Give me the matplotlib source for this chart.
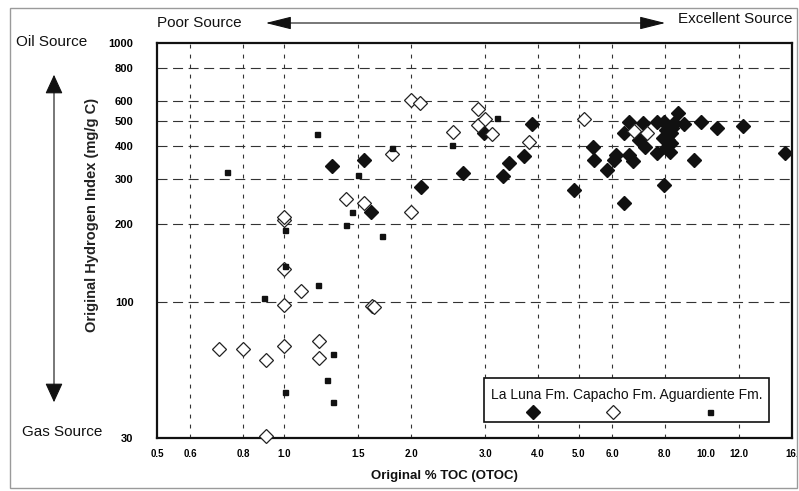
import matplotlib
matplotlib.use('Agg')
import matplotlib.pyplot as plt
from matplotlib.patches import Rectangle, FancyArrowPatch
from matplotlib.lines import Line2D
import matplotlib.ticker as mticker

# ── Data ──
luna_toc = [1.30, 1.55, 1.61, 2.11, 2.65, 2.98, 3.31, 3.41, 3.70, 3.88,
            4.87, 5.39, 5.44, 5.83, 6.12, 6.07, 6.40, 6.40, 6.58, 6.58,
            6.70, 6.95, 7.08, 7.18, 7.65, 7.67, 7.96, 8.04, 8.26, 8.11,
            8.26, 8.04, 8.23, 8.42, 8.57, 8.89, 7.96, 9.38, 9.73, 10.6,
            12.25, 15.4, 8.15, 7.90, 8.30]
luna_hi = [335, 353, 224, 278, 314, 448, 307, 345, 366, 486,
           271, 398, 353, 325, 369, 353, 241, 448, 494, 369,
           350, 422, 492, 398, 497, 375, 497, 462, 448, 422,
           410, 392, 381, 490, 538, 486, 283, 353, 494, 469,
           478, 375, 440, 430, 470]

cap_toc = [0.70, 0.80, 0.906, 0.906, 1.0, 1.0, 1.0, 1.0, 1.0, 1.10,
           1.21, 1.21, 1.40, 1.55, 1.62, 1.63, 1.80, 2.0, 2.0, 2.10,
           2.51, 2.88, 2.88, 2.99, 3.11, 3.80, 5.15, 6.74, 7.25]
cap_hi = [66, 66, 60, 30.5, 68, 98, 134, 207, 213, 111,
          71, 61, 251, 241, 97, 96, 373, 224, 603, 588,
          452, 555, 482, 508, 446, 416, 508, 457, 450]

agu_toc = [0.733, 0.895, 1.005, 1.005, 1.005, 1.20, 1.206, 1.265, 1.31, 1.31,
           1.40, 1.45, 1.50, 1.71, 1.80, 2.50, 3.19]
agu_hi = [318, 104, 190, 138, 45.3, 444, 117, 50.3, 63.4, 41.2,
          198, 224, 311, 180, 392, 403, 515]

x_ticks = [0.5, 0.6, 0.8, 1.0, 1.5, 2.0, 3.0, 4.0, 5.0, 6.0, 8.0, 10.0, 12.0, 16.0]
x_labels = ['0.5', '0.6', '0.8', '1.0', '1.5', '2.0', '3.0', '4.0', '5.0', '6.0',
            '8.0', '10.0', '12.0', '16.']
x_grid = [0.6, 0.8, 1.0, 1.5, 2.0, 3.0, 4.0, 5.0, 6.0, 8.0, 12.0]
y_ticks = [30, 100, 200, 300, 400, 500, 600, 800, 1000]
y_grid = [100, 200, 300, 400, 500, 600, 800]

W, H = 799, 491
def fx(x): return x / W
def fy(y): return 1 - y / H

plt.rcParams['font.family'] = ['Liberation Sans', 'DejaVu Sans']
INK = '#111111'

fig = plt.figure(figsize=(W / 100, H / 100), dpi=100)
fig.patch.set_facecolor('white')
ax = fig.add_axes([fx(157), fy(438), fx(792) - fx(157), fy(43) - fy(438)])

ax.set_xscale('log')
ax.set_yscale('log')
ax.set_xlim(0.5, 16)
ax.set_ylim(30, 1000)

# grid
for g in x_grid:
    ax.axvline(g, color='#333333', lw=0.8, dashes=(3.5, 5.5), zorder=1)
for g in y_grid:
    ax.axhline(g, color='#333333', lw=0.8, dashes=(9, 5), zorder=1)

# points
ax.plot(luna_toc, luna_hi, 'D', ms=6.8, color=INK, mec=INK, zorder=3)
ax.plot(cap_toc, cap_hi, 'D', ms=6.8, mfc='white', mec='#222222', mew=0.9,
        zorder=4, clip_on=False)
ax.plot(agu_toc, agu_hi, 's', ms=3.6, color=INK, zorder=5)

# ticks
ax.xaxis.set_major_locator(mticker.FixedLocator(x_ticks))
ax.xaxis.set_major_formatter(mticker.FixedFormatter(x_labels))
ax.xaxis.set_minor_locator(mticker.NullLocator())
ax.yaxis.set_major_locator(mticker.FixedLocator(y_ticks))
ax.yaxis.set_major_formatter(mticker.FixedFormatter([str(v) for v in y_ticks]))
ax.yaxis.set_minor_locator(mticker.NullLocator())
ax.tick_params(axis='x', length=0, pad=8, labelsize=7)
ax.tick_params(axis='y', length=0, pad=17, labelsize=8)
for lab in ax.get_xticklabels() + ax.get_yticklabels():
    lab.set_fontweight('bold')

for s in ax.spines.values():
    s.set_linewidth(1.6)
    s.set_color(INK)

# axis labels
fig.text(fx(444), fy(476), 'Original % TOC (OTOC)', ha='center', va='center',
         fontsize=9.5, fontweight='bold', color=INK)
fig.text(fx(92), fy(215), 'Original Hydrogen Index (mg/g C)', ha='center', va='center',
         rotation=90, fontsize=10.5, fontweight='bold', color='#222222')

# side annotations
fig.text(fx(16), fy(42), 'Oil Source', ha='left', va='center', fontsize=11, color=INK)
fig.text(fx(22), fy(432), 'Gas Source', ha='left', va='center', fontsize=11, color=INK)
fig.text(fx(157), fy(23), 'Poor Source', ha='left', va='center', fontsize=11, color=INK)
fig.text(fx(793), fy(19), 'Excellent Source', ha='right', va='center', fontsize=11, color=INK)

fig.add_artist(FancyArrowPatch((fx(263), fy(23)), (fx(668), fy(23)),
                               transform=fig.transFigure,
                               arrowstyle='<|-|>,head_length=1.6,head_width=0.4',
                               mutation_scale=10, color=INK, lw=0.8))
fig.add_artist(FancyArrowPatch((fx(54), fy(72)), (fx(54), fy(405)),
                               transform=fig.transFigure,
                               arrowstyle='<|-|>,head_length=1.2,head_width=0.55',
                               mutation_scale=10, color=INK, lw=0.8))

# legend box
fig.add_artist(Rectangle((fx(484), fy(422)), fx(769) - fx(484), fy(378) - fy(422),
                         transform=fig.transFigure, facecolor='white',
                         edgecolor=INK, lw=1.2, zorder=6))
fig.text(fx(627), fy(395), 'La Luna Fm. Capacho Fm. Aguardiente Fm.',
         ha='center', va='center', fontsize=10, color=INK, zorder=7)
fig.add_artist(Line2D([fx(533)], [fy(412)], transform=fig.transFigure, marker='D',
                      ms=6.8, color=INK, ls='none', zorder=7))
fig.add_artist(Line2D([fx(613)], [fy(412)], transform=fig.transFigure, marker='D',
                      ms=6.8, mfc='white', mec='#222222', mew=0.9, ls='none', zorder=7))
fig.add_artist(Line2D([fx(710)], [fy(412)], transform=fig.transFigure, marker='s',
                      ms=3.6, color=INK, ls='none', zorder=7))

# outer frame
fig.add_artist(Rectangle((fx(10), fy(488)), fx(797) - fx(10), fy(8) - fy(488),
                         transform=fig.transFigure, facecolor='none',
                         edgecolor='#9a9a9a', lw=1.0))

fig.savefig('out.png', dpi=100, facecolor='white')
